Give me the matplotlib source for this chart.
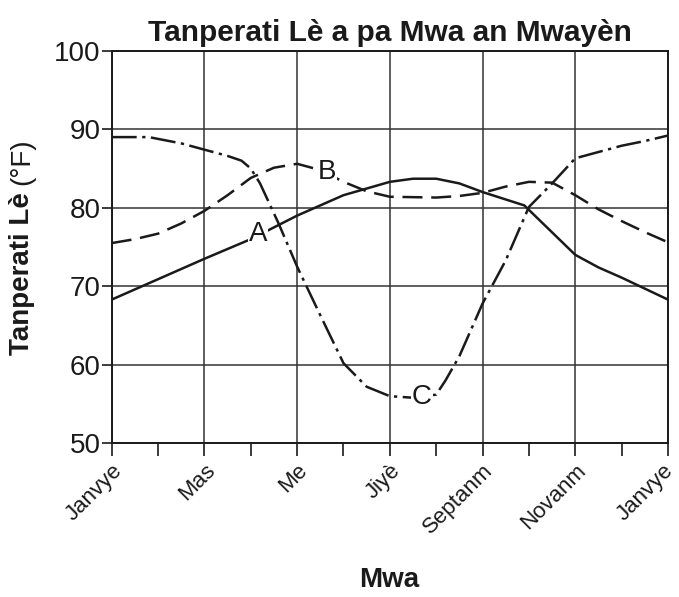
import matplotlib
matplotlib.use("Agg")
import matplotlib.pyplot as plt
from matplotlib.transforms import ScaledTranslation

# month index: 0 = Janvye ... 12 = Janvye (next year)
tick_months = [0, 2, 4, 6, 8, 10, 12]
tick_labels = ["Janvye", "Mas", "Me", "Jiyè", "Septanm", "Novanm", "Janvye"]

a_month = [0, 1, 2, 3, 4, 5, 6, 6.5, 7, 7.5, 8, 8.9, 10, 10.5, 11, 11.5, 12]
a_temp = [68.3, 70.9, 73.5, 76.0, 79.0, 81.6, 83.3, 83.7, 83.7, 83.1, 82.0, 80.3, 74.0, 72.4, 71.1, 69.7, 68.3]

b_month = [0, 0.5, 1, 1.5, 2, 2.5, 3, 3.5, 4, 4.5, 5, 5.5, 6, 7, 7.5, 8, 8.5, 9, 9.5, 10, 10.5, 11, 11.5, 12]
b_temp = [75.5, 76.0, 76.7, 78.0, 79.6, 81.6, 83.8, 85.1, 85.6, 84.8, 83.3, 82.1, 81.4, 81.3, 81.5, 81.9, 82.7, 83.3, 83.2, 81.6, 79.8, 78.3, 76.9, 75.6]

c_month = [0, 0.8, 1.5, 2, 2.5, 2.8, 3, 3.2, 3.6, 4, 4.5, 5, 5.5, 6, 6.5, 7, 7.2, 7.5, 8, 8.5, 9, 9.5, 10, 10.5, 11, 11.5, 12]
c_temp = [89.0, 89.0, 88.2, 87.4, 86.6, 86.0, 85.0, 83.1, 78.0, 72.5, 66.3, 60.2, 57.2, 56.0, 55.8, 56.2, 58.0, 61.1, 67.8, 73.3, 80.1, 83.1, 86.3, 87.1, 87.9, 88.5, 89.2]

# label positions (month, temp)
labels = {"A": (3.16, 76.7), "B": (4.64, 84.5), "C": (6.69, 55.9)}

plt.rcParams["font.family"] = ["Liberation Sans", "DejaVu Sans"]
ink = "#1a1a1a"

fig = plt.figure(figsize=(6.79, 5.97), dpi=100)
ax = fig.add_axes([0.1645, 0.2575, 0.8193, 0.6575])

ax.plot(a_month, a_temp, color=ink, lw=1.8, solid_joinstyle="round", zorder=3)
ax.plot(b_month, b_temp, color=ink, lw=1.8, linestyle=(0, (8, 3.5)), zorder=3)
ax.plot(c_month, c_temp, color=ink, lw=1.8, linestyle=(0, (10, 2.2, 1.3, 2.2)), zorder=3)

for name, (mx, ty) in labels.items():
    ax.text(mx, ty, name, fontsize=20, ha="center", va="center", color=ink, zorder=4,
            bbox=dict(facecolor="white", edgecolor="none", pad=0.5))

ax.set_xlim(0, 12)
ax.set_ylim(50, 100)
ax.set_xticks(tick_months)
ax.set_xticks(range(13), minor=True)
ax.set_yticks(range(50, 101, 10))
ax.tick_params(axis="y", labelsize=20, length=7, width=1.2, pad=1, colors=ink)
ax.tick_params(axis="x", which="both", length=9, width=1.2, pad=3, colors=ink)
ax.set_xticklabels(tick_labels, rotation=45, ha="right", rotation_mode="anchor", fontsize=16)
# nudge the last label left so it stays inside the figure
last = ax.get_xticklabels()[-1]
last.set_transform(last.get_transform() + ScaledTranslation(-5 / 100, 0, fig.dpi_scale_trans))

ax.grid(True, which="major", color="#333333", lw=1.1)
for s in ax.spines.values():
    s.set_linewidth(1.4)
    s.set_color(ink)

ax.set_title("Tanperati Lè a pa Mwa an Mwayèn", fontsize=21.5, fontweight="bold", pad=7, color=ink)

t1 = fig.text(0.033, 0.405, "Tanperati Lè ", rotation=90, fontsize=20, fontweight="bold",
              ha="center", va="bottom", color=ink)
ax.annotate("(°F)", xy=(0.5, 1), xycoords=t1, rotation=90, fontsize=20, ha="center", va="bottom",
            color=ink, annotation_clip=False)

fig.text(0.573, 0.028, "Mwa", fontsize=20, fontweight="bold", ha="center", va="center", color=ink)

fig.savefig("out.png", dpi=100)
